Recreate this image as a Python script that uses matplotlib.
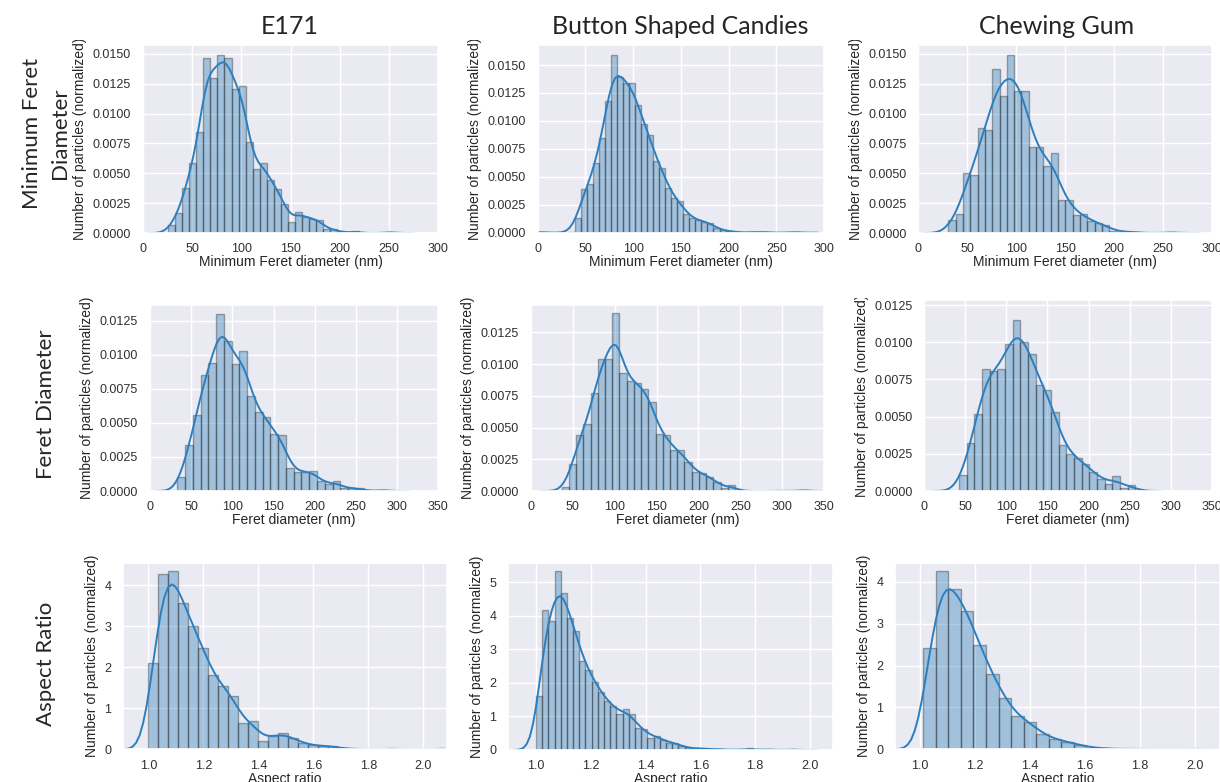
import numpy as np
import matplotlib.pyplot as plt
import seaborn as sns
from matplotlib.transforms import Bbox, TransformedBbox

sns.set_theme(style="darkgrid")
plt.rcParams['font.family'] = ['Liberation Sans', 'DejaVu Sans']

W, H = 1220, 782

samples = ["E171", "Button Shaped Candies", "Chewing Gum"]
quantities = ["Minimum Feret\nDiameter", "Feret Diameter", "Aspect Ratio"]
xlabels = ["Minimum Feret diameter (nm)", "Feret diameter (nm)", "Aspect ratio"]
ylabel = "Number of particles (normalized)"

# histograms: (first bin edge, bin width) and normalized heights
e171_minferet_bins = (25.4, 7.18)
e171_minferet = [0.0007, 0.0017, 0.0038, 0.0059, 0.0085, 0.0147, 0.0130, 0.0149,
                 0.0147, 0.0121, 0.0123, 0.0076, 0.0054, 0.0059, 0.0044, 0.0037,
                 0.0024, 0.0009, 0.0018, 0.0013, 0.0012, 0.0011, 0.0003, 0.0003,
                 0.0001, 0.0, 0.00017, 0.0, 0.0, 0.0, 0.0, 0.0001]

button_minferet_bins = (0.6, 6.33)
button_minferet = [0.0001, 0.0, 0.0, 0.0, 0.0, 0.0001, 0.0013, 0.0039, 0.0044, 0.0062,
                   0.0085, 0.0118, 0.0159, 0.0139, 0.0134, 0.0134, 0.0114, 0.0097,
                   0.0087, 0.0064, 0.0058, 0.0040, 0.0031, 0.0028, 0.0017, 0.0013,
                   0.0011, 0.0010, 0.0009, 0.0004, 0.0002, 0.00015, 0.0001, 0.0, 0.0,
                   0.0001, 0.0, 0.0001, 0.0, 0.0, 0.0, 0.0, 0.0001]

gum_minferet_bins = (30.7, 7.48)
gum_minferet = [0.0011, 0.0016, 0.0050, 0.0049, 0.0088, 0.0086, 0.0137, 0.0115,
                0.0149, 0.0119, 0.0119, 0.0072, 0.0072, 0.0056, 0.0067, 0.0028,
                0.0028, 0.0015, 0.0016, 0.0010, 0.0008, 0.0007, 0.0002, 0.0001,
                0.0001, 0.0001, 0.0, 0.0, 0.0, 0.0, 0.0001]

e171_feret_bins = (33.2, 9.42)
e171_feret = [0.0010, 0.0034, 0.0056, 0.0085, 0.0094, 0.0130, 0.0110, 0.0093, 0.0103,
              0.0070, 0.0058, 0.0054, 0.0042, 0.0041, 0.0017, 0.0014, 0.0014, 0.0015,
              0.0007, 0.0005, 0.0007, 0.0002, 0.0002, 0.0002, 0.0, 0.0, 0.0001]

button_feret_bins = (36.6, 8.63)
button_feret = [0.0003, 0.0021, 0.0044, 0.0053, 0.0077, 0.0104, 0.0104, 0.0140, 0.0093,
                0.0087, 0.0085, 0.0080, 0.0070, 0.0045, 0.0044, 0.0032, 0.0032, 0.0023,
                0.0015, 0.0014, 0.0011, 0.0007, 0.0002, 0.0005, 0.0, 0.0, 0.0, 0.0,
                0.0, 0.0, 0.00003, 0.0, 0.0, 0.0001]

gum_feret_bins = (42.2, 9.34)
gum_feret = [0.0011, 0.0032, 0.0052, 0.0082, 0.0081, 0.0082, 0.0099, 0.0115, 0.0100,
             0.0092, 0.0071, 0.0068, 0.0053, 0.0031, 0.0025, 0.0022, 0.0018, 0.0013,
             0.0008, 0.0005, 0.0010, 0.0002, 0.0004]

e171_ar_bins = (1.0, 0.0362)
e171_ar = [2.11, 4.28, 4.34, 3.57, 3.00, 2.47, 1.81, 1.53, 1.31, 0.65, 0.69, 0.21,
           0.33, 0.39, 0.28, 0.15, 0.10, 0.08, 0.08, 0.02, 0.01, 0.01, 0.0, 0.0,
           0.02, 0.0, 0.0, 0.0, 0.0, 0.02]

button_ar_bins = (1.0, 0.0226)
button_ar = [1.62, 4.19, 3.85, 5.34, 4.67, 3.95, 3.55, 2.65, 2.39, 2.04, 1.72, 1.46,
             1.32, 1.06, 1.21, 1.06, 0.65, 0.63, 0.37, 0.43, 0.30, 0.22, 0.22, 0.12,
             0.06, 0.04, 0.06, 0.03, 0.02, 0.03, 0.01, 0.01, 0.0, 0.01, 0.05, 0.0,
             0.0, 0.03, 0.0, 0.0, 0.0, 0.02]

gum_ar_bins = (1.012, 0.0456)
gum_ar = [2.43, 4.25, 3.82, 3.30, 2.49, 1.80, 1.22, 0.80, 0.64, 0.37, 0.24, 0.18,
          0.10, 0.04, 0.02, 0.01, 0.01, 0.01, 0.0, 0.01, 0.0, 0.01, 0.01]

hist_data = [[(e171_minferet_bins, e171_minferet), (button_minferet_bins, button_minferet), (gum_minferet_bins, gum_minferet)],
             [(e171_feret_bins, e171_feret), (button_feret_bins, button_feret), (gum_feret_bins, gum_feret)],
             [(e171_ar_bins, e171_ar), (button_ar_bins, button_ar), (gum_ar_bins, gum_ar)]]

# kde bandwidth per panel
bandwidths = [[6.5, 7.0, 8.5], [9.0, 8.5, 10.5], [0.032, 0.026, 0.036]]

# axes boxes in pixels: left, right, top, bottom
boxes = [[(143, 438, 45, 233), (537.7, 824, 45, 232.7), (918.3, 1211.7, 45, 233)],
         [(150, 438.3, 305, 491), (531, 824, 305, 491), (924.3, 1211.7, 300, 491)],
         [(123, 447, 563.3, 749.3), (508, 833, 563.3, 750), (895, 1220, 563.3, 749.3)]]
xlims = [[(0, 300)] * 3, [(0, 350)] * 3,
         [(0.908, 2.086), (0.898, 2.084), (0.909, 2.091)]]
ylims = [[0.01575, 0.01679, 0.01575], [0.01365, 0.01465, 0.01284], [4.53, 5.57, 4.44]]
xticks = [np.arange(0, 301, 50), np.arange(0, 351, 50), np.arange(1.0, 2.01, 0.2)]
yticks = [[np.arange(0, 0.016, 0.0025)] * 3, [np.arange(0, 0.0126, 0.0025)] * 3,
          [np.arange(0, 5), np.arange(0, 6), np.arange(0, 5)]]
row_clip = [(40, 290), (298, 545), (553, 782)]


def kde(start, width, heights, bw, n=100):
    h = np.asarray(heights)
    c = start + width * (np.arange(len(h)) + 0.5)
    m = h * width
    xs = np.linspace(start - 3 * bw, start + width * len(h) + 3 * bw, n)
    ys = (m * np.exp(-0.5 * ((xs[:, None] - c) / bw) ** 2)).sum(1) / (bw * np.sqrt(2 * np.pi))
    return xs, ys


fig = plt.figure(figsize=(W / 100, H / 100), dpi=100)
blue = '#1f77b4'

for r in range(3):
    for c in range(3):
        l, rr, t, b = boxes[r][c]
        ax = fig.add_axes([l / W, 1 - b / H, (rr - l) / W, (b - t) / H])
        (start, width), heights = hist_data[r][c]
        edges = start + width * np.arange(len(heights))
        ax.bar(edges, heights, width=width, align='edge', color=blue, alpha=0.36,
               edgecolor='k', linewidth=1)
        xs, ys = kde(start, width, heights, bandwidths[r][c])
        ax.plot(xs, ys, color='#2b7fc0', lw=1.4)
        ax.set_xlim(*xlims[r][c])
        ax.set_ylim(0, ylims[r][c])
        ax.set_xticks(xticks[r])
        ax.set_yticks(yticks[r][c])
        if r < 2:
            ax.yaxis.set_major_formatter(plt.FormatStrFormatter('%.4f'))
        else:
            ax.xaxis.set_major_formatter(plt.FormatStrFormatter('%.1f'))
        ax.tick_params(labelsize=9, pad=2.5, colors='#303030')
        ax.tick_params(axis='x', pad=1.5)
        ax.set_xlabel(xlabels[r], fontsize=10, labelpad=0, color='#262626')
        lab = ax.set_ylabel(ylabel, fontsize=10, labelpad=4, color='#262626')
        y0, y1 = row_clip[r]
        lab.set_clip_box(TransformedBbox(Bbox([[0, 1 - y1 / H], [1, 1 - y0 / H]]), fig.transFigure))
        lab.set_clip_on(True)

title_font = ['Lato', 'Liberation Sans', 'DejaVu Sans']
for x, s in zip([290, 680, 1057], samples):
    fig.text(x / W, 1 - 27 / H, s, ha='center', va='center', fontsize=18, family=title_font)
for y, s in zip([133, 404, 664], quantities):
    fig.text(46 / W, 1 - y / H, s, ha='center', va='center', rotation=90,
             fontsize=16, family=title_font, linespacing=1.45)

fig.savefig('out.png', dpi=100)
